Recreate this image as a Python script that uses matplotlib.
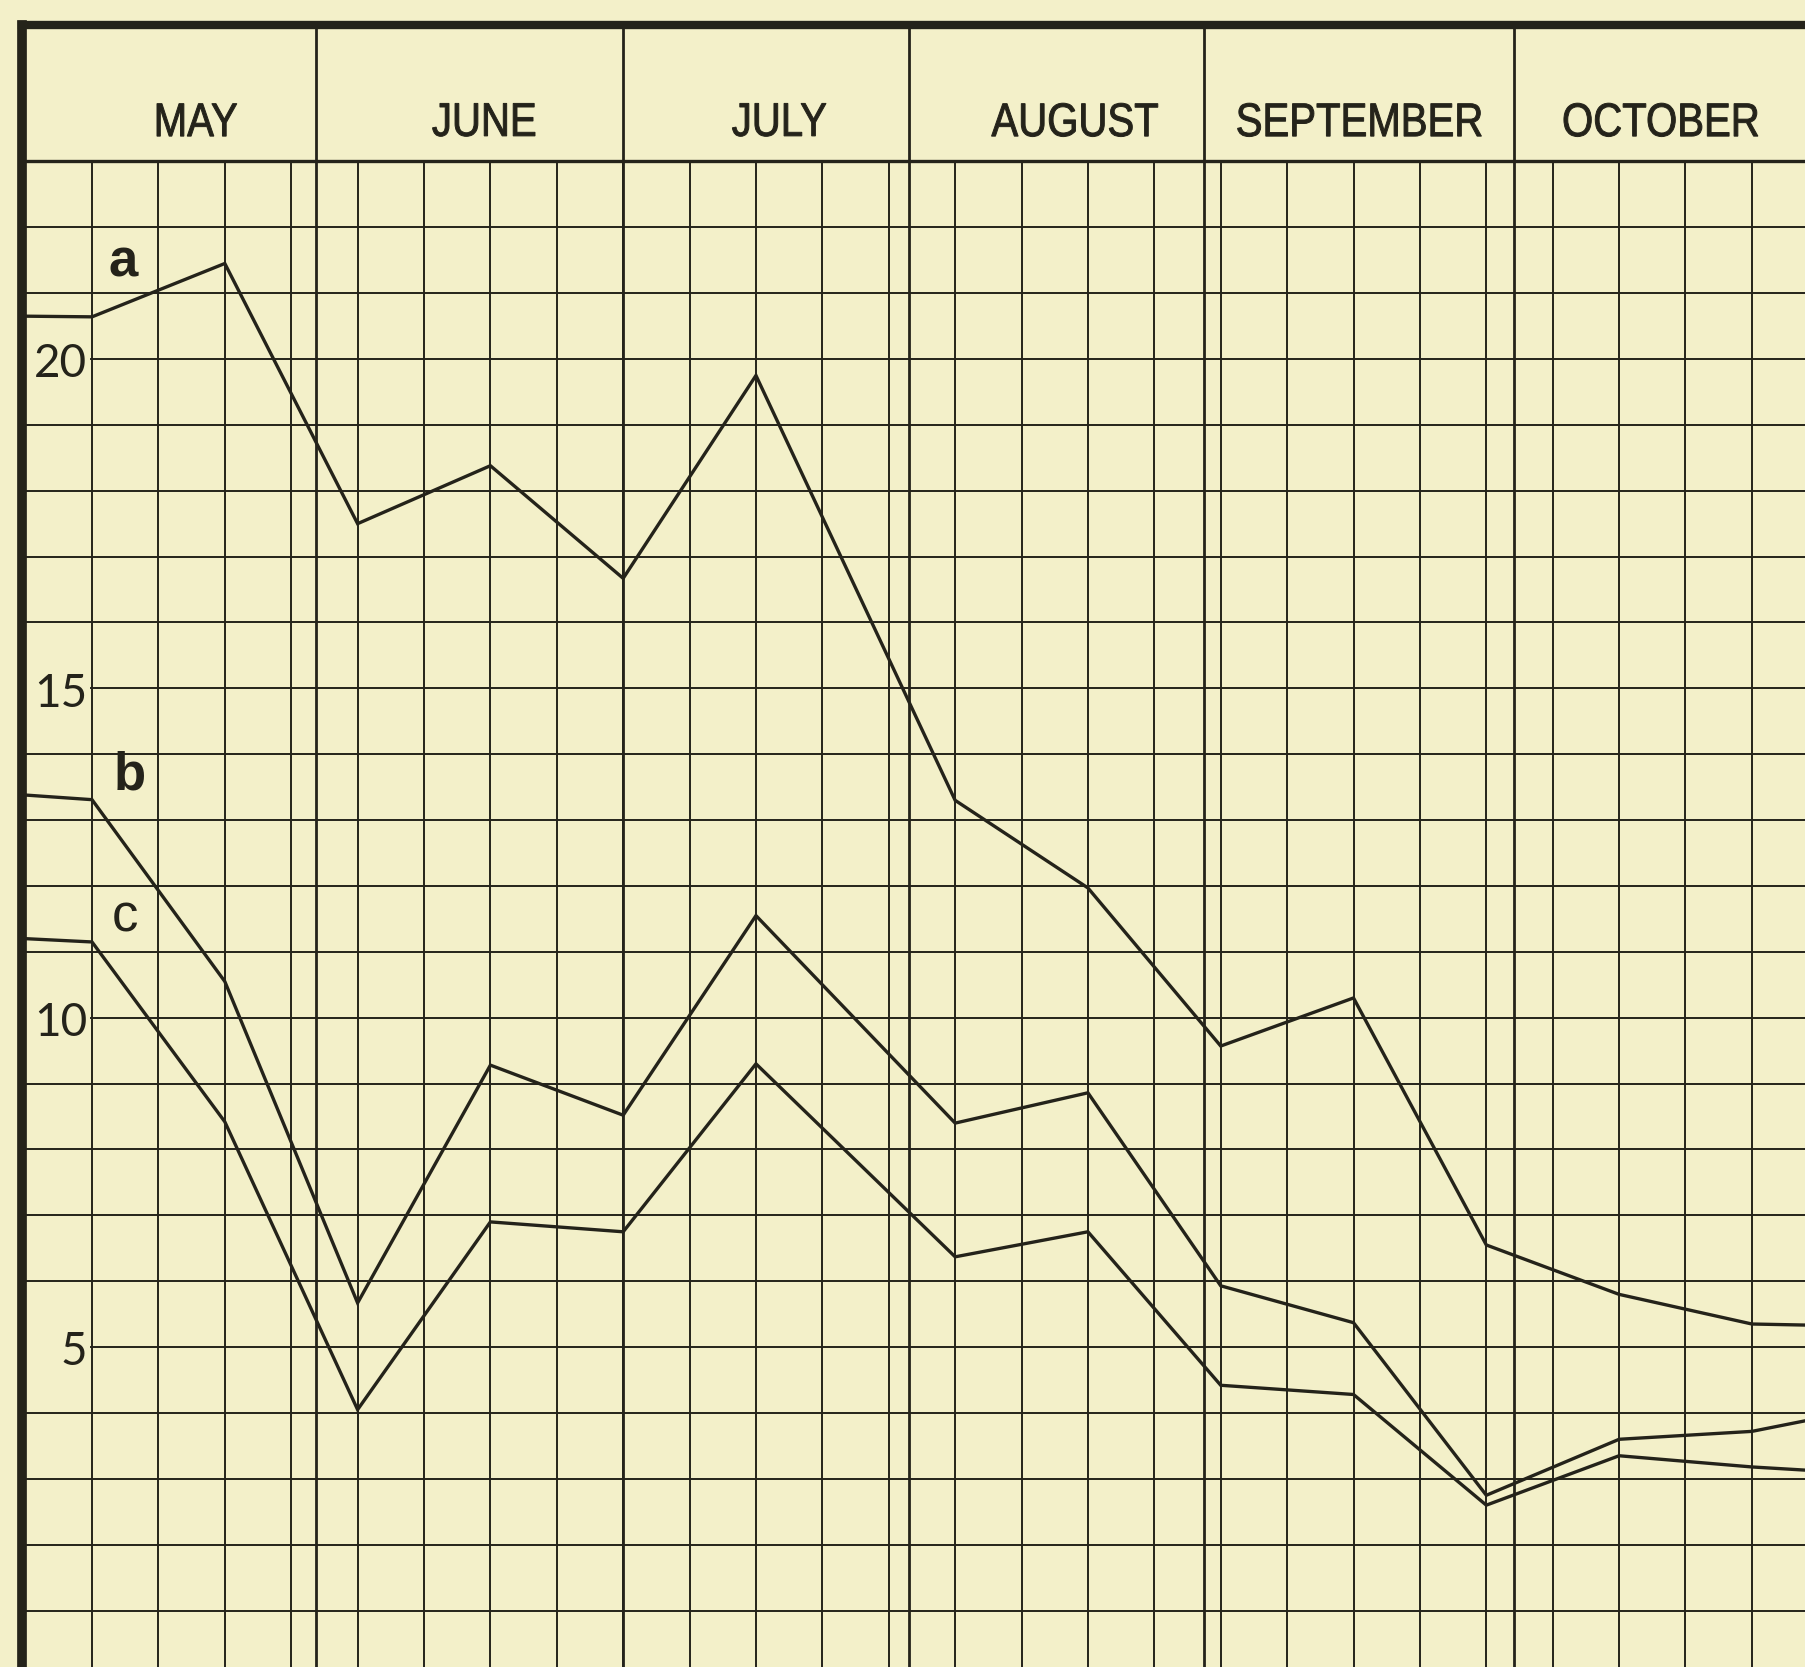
import matplotlib.pyplot as plt
import matplotlib.transforms as mtransforms
from matplotlib.textpath import TextPath
from matplotlib.patches import PathPatch
from matplotlib.font_manager import FontProperties

# x = week index on the chart sheet (0 = left edge, weekly rulings at 1..26)
weeks = [0, 1, 3, 5, 7, 9, 11, 14, 16, 18, 20, 22, 24, 26, 27]
series_a = [20.65, 20.64, 21.45, 17.5, 18.38, 16.67, 19.75, 13.3, 11.97, 9.57, 10.3, 6.55, 5.8, 5.35, 5.33]
series_b = [13.38, 13.31, 10.55, 5.67, 9.28, 8.52, 11.55, 8.4, 8.86, 5.93, 5.37, 2.75, 3.6, 3.72, 3.92]
series_c = [11.2, 11.15, 8.42, 4.05, 6.9, 6.75, 9.3, 6.37, 6.75, 4.42, 4.28, 2.6, 3.35, 3.18, 3.12]

months = ['MAY', 'JUNE', 'JULY', 'AUGUST', 'SEPTEMBER', 'OCTOBER']
month_mid = [2.58, 6.90, 11.35, 15.80, 20.09, 24.63]
month_edges = [-0.054, 4.37, 9.0, 13.30, 17.75, 22.41]
week_lines = list(range(1, 27))
value_lines = list(range(1, 24))
y_ticks = [5, 10, 15, 20]

paper = '#f3f0c9'
ink = '#24231a'

fig = plt.figure(figsize=(18.05, 16.67), dpi=100, facecolor=paper)
ax = fig.add_axes([0, 0, 1, 1])
ax.set_facecolor(paper)
ax.set_xlim(-0.386, 26.8)
ax.set_ylim(0.143, 25.45)
ax.axis('off')

top = 25.07
grid_top = 23


def narrow_text(x, y, s, size, squeeze):
    # condensed lettering: draw the glyph outlines squeezed sideways
    fp = FontProperties(family=['Liberation Sans', 'DejaVu Sans'], size=size)
    tp = TextPath((0, 0), s, prop=fp)
    bb = tp.get_extents()
    px = fig.dpi / 72.0
    cx, cy = ax.transData.transform((x, y))
    tr = (mtransforms.Affine2D()
          .translate(-(bb.x0 + bb.x1) / 2, -(bb.y0 + bb.y1) / 2)
          .scale(squeeze * px, px)
          .translate(cx, cy))
    ax.add_patch(PathPatch(tp, transform=tr, facecolor=ink, edgecolor=ink, lw=0.7, zorder=4))


# horizontal rulings (labelled ones start after the label)
for v in value_lines:
    x0 = 0.99 if v in y_ticks else month_edges[0]
    lw = 2.4 if v == grid_top else 1.4
    ax.plot([x0, 27], [v, v], color=ink, lw=lw, zorder=1)

# weekly rulings
for w in week_lines:
    ax.plot([w, w], [0, grid_top], color=ink, lw=1.4, zorder=1)

# month boundaries run up through the header
for i, m in enumerate(month_edges):
    lw = 7 if i == 0 else 2.0
    ax.plot([m, m], [0, top], color=ink, lw=lw, zorder=2, solid_capstyle='projecting')
ax.plot([month_edges[0], 27], [top, top], color=ink, lw=6, zorder=2, solid_capstyle='projecting')

for name, xm in zip(months, month_mid):
    narrow_text(xm, 23.63, name, 34, 0.85)

for t in y_ticks:
    ax.text(0.93, t - 0.08, str(t), ha='right', va='center', fontsize=33, color=ink,
            family=['Lato', 'DejaVu Sans'])

for ys in [series_a, series_b, series_c]:
    ax.plot(weeks, ys, color=ink, lw=2.4, zorder=5, solid_joinstyle='miter')

ax.text(1.47, 21.46, 'a', ha='center', va='center', fontsize=38, color=ink,
        family=['Liberation Sans', 'DejaVu Sans'], fontweight='bold')
ax.text(1.56, 13.68, 'b', ha='center', va='center', fontsize=38, color=ink,
        family=['Liberation Sans', 'DejaVu Sans'], fontweight='bold')
ax.text(1.49, 11.52, 'c', ha='center', va='center', fontsize=38, color=ink,
        family=['Liberation Sans', 'DejaVu Sans'])

fig.savefig('out.png', dpi=100, facecolor=paper)
